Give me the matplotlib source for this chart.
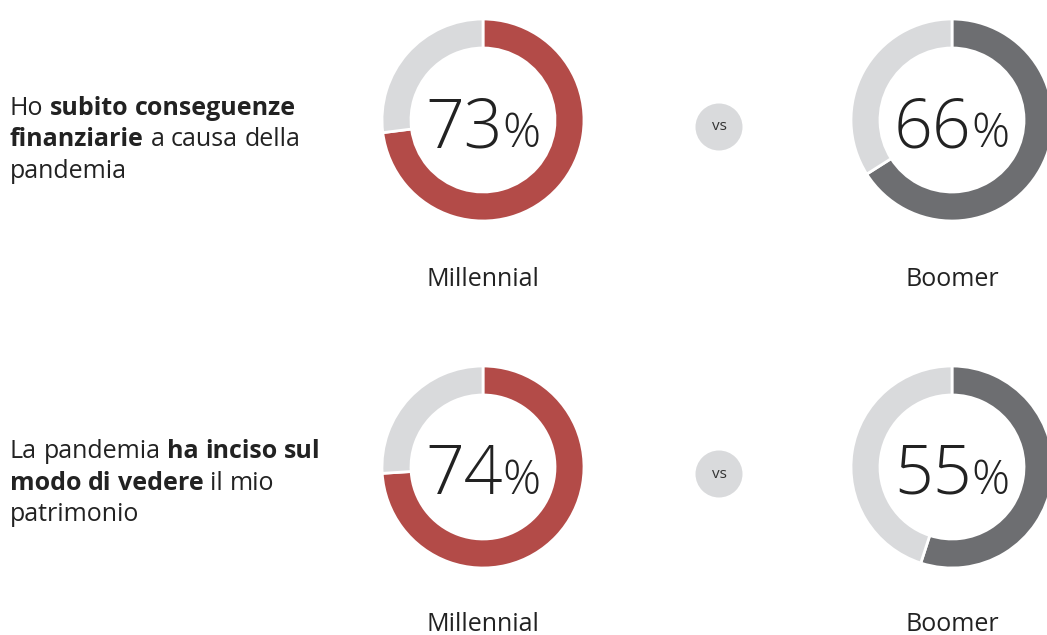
import matplotlib.pyplot as plt

# ------------------------ dati ----------------------------
gruppi = ['Millennial', 'Boomer']
valori_riga1 = [73, 66]
valori_riga2 = [74, 55]
domanda_1 = [
    [('Ho ', False), ('subito conseguenze', True)],
    [('finanziarie', True), (' a causa della', False)],
    [('pandemia', False)],
]
domanda_2 = [
    [('La pandemia ', False), ('ha inciso sul', True)],
    [('modo di vedere', True), (' il mio', False)],
    [('patrimonio', False)],
]

# ------------------------ stile ----------------------------
W, H = 1047, 635
FONT = 'Open Sans'
rosso = '#b34b48'
grigio = '#d9dadc'
scuro = '#6d6e71'
nero = '#222222'

fig = plt.figure(figsize=(W / 100, H / 100), dpi=100)
ax = fig.add_axes([0, 0, 1, 1])
r = fig.canvas.get_renderer()


def larghezza(s, size, weight='normal'):
    t = ax.text(0, 0, s, fontsize=size, fontweight=weight, family=FONT)
    w = t.get_window_extent(r).width
    t.remove()
    return w


def scrivi(x, y, pezzi, size):
    # scrive una riga con parti in grassetto
    for testo, grassetto in pezzi:
        peso = 'bold' if grassetto else 'normal'
        spazio = larghezza('a a', size, peso) - larghezza('aa', size, peso)
        parole = testo.split(' ')
        for i, p in enumerate(parole):
            if p:
                t = ax.text(x, y, p, fontsize=size, fontweight=peso, family=FONT,
                            color=nero, va='baseline', ha='left')
                x += t.get_window_extent(r).width
            if i < len(parole) - 1:
                x += spazio


def ciambella(cx, cy, valore, colore):
    ax.pie([valore, 100 - valore], colors=[colore, grigio], startangle=90,
           counterclock=False, radius=101, center=(cx, H - cy),
           wedgeprops=dict(width=29, edgecolor='white', linewidth=2))
    # numero + simbolo %
    wd = larghezza(str(valore), 49, 'light')
    wp = larghezza('%', 34, 'light')
    x0 = cx - (wd + wp) / 2
    ax.text(x0, H - cy - 27, str(valore), fontsize=49, fontweight='light', family=FONT,
            color=nero, va='baseline', ha='left')
    ax.text(x0 + wd, H - cy - 27, '%', fontsize=34, fontweight='light', family=FONT,
            color=nero, va='baseline', ha='left')


# ------------------------ grafico ----------------------------
colonne = [483, 952]
righe = [120, 467]
base_testo = [115, 458]
base_etichette = [286, 631]
colori = [rosso, scuro]

for riga, bt, be, valori, domanda in zip(righe, base_testo, base_etichette,
                                         [valori_riga1, valori_riga2], [domanda_1, domanda_2]):
    for cx, v, col, g in zip(colonne, valori, colori, gruppi):
        ciambella(cx, riga, v, col)
        ax.text(cx, H - be, g, fontsize=18, family=FONT, color=nero,
                va='baseline', ha='center')
    # cerchio "vs"
    ax.add_patch(plt.Circle((719, H - riga - 7), 23.5, color=grigio, lw=0))
    ax.text(719, H - riga - 7, 'vs', fontsize=11, family=FONT, color='#333333',
            va='center', ha='center')
    # domanda a sinistra
    for k, linea in enumerate(domanda):
        scrivi(10, H - bt - k * 31.5, linea, 18)

ax.set_xlim(0, W)
ax.set_ylim(0, H)
ax.set_aspect('auto')
ax.axis('off')

fig.savefig('out.png', dpi=100)
